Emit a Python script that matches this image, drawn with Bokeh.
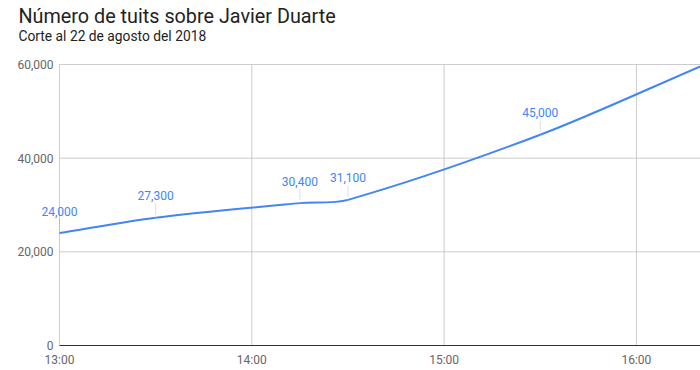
import numpy as np
import pandas as pd
from bokeh.plotting import figure
from bokeh.models import (FixedTicker, NumeralTickFormatter, DatetimeTickFormatter, Range1d,
                          Label, LabelSet, ColumnDataSource)
from bokeh.core.properties import value
from bokeh.embed import file_html
from bokeh.resources import INLINE

# ---- data ----
day = "2018-08-22 "
times = ["13:00", "13:30", "14:15", "14:30", "15:30", "16:20"]
tweets = [24000, 27300, 30400, 31100, 45000, 59600]
label_times = ["13:00", "13:30", "14:15", "14:30", "15:30"]
label_values = [24000, 27300, 30400, 31100, 45000]
label_texts = ["24,000", "27,300", "30,400", "31,100", "45,000"]
x_ticks = ["13:00", "14:00", "15:00", "16:00"]
y_ticks = [0, 20000, 40000, 60000]
x_start, x_end = "13:00", "16:20"
y_start, y_end = 0, 60000

title_text = "Número de tuits sobre Javier Duarte"
subtitle_text = "Corte al 22 de agosto del 2018"

FONT = "Roboto"
BLUE = "#4285f4"

def to_ms(t):
    return pd.Timestamp(day + t).value / 1e6

xs = np.array([to_ms(t) for t in times])
ys = np.array(tweets, dtype=float)
lx = np.array([to_ms(t) for t in label_times])
ly = np.array(label_values, dtype=float)
xt = np.array([to_ms(t) for t in x_ticks])
yt = np.array(y_ticks, dtype=float)
x0, x1 = to_ms(x_start), to_ms(x_end)

# layout (pixels)
W, H = 700, 370
PL, PT, PB = 59, 64, 25          # plot-area offsets inside the canvas
PW, PH = W - PL, H - PT - PB     # plot-area size
mpp = (x1 - x0) / PW             # ms per pixel
vpp = (y_end - y_start) / PH     # value per pixel
fx0 = x0 - PL * mpp              # frame covers the whole canvas
fy0 = y_start - PB * vpp
fy1 = y_end + PT * vpp

p = figure(width=W, height=H, x_axis_type="datetime", output_backend="svg",
           toolbar_location=None, min_border_left=0, min_border_right=0,
           min_border_top=0, min_border_bottom=0,
           x_range=Range1d(fx0, x1), y_range=Range1d(fy0, fy1))
p.outline_line_color = None
p.background_fill_color = "white"
p.border_fill_color = "white"
p.xgrid.visible = False
p.ygrid.visible = False

# gridlines over the plot area only
GRID = "#cccccc"
p.segment(x0=np.full(len(yt), x0), y0=yt, x1=np.full(len(yt), x1), y1=yt,
          line_color=GRID, line_width=1, level="underlay")
p.segment(x0=xt, y0=np.full(len(xt), y_start), x1=xt, y1=np.full(len(xt), y_end),
          line_color=GRID, line_width=1, level="underlay")

# titles
p.add_layout(Label(x=fx0 + 18 * mpp, y=fy1 - 16 * vpp, text=title_text,
                   text_font=FONT, text_font_size="19.8px", text_color="#222222",
                   text_baseline="alphabetic", text_align="left"))
p.add_layout(Label(x=fx0 + 18 * mpp, y=fy1 - 35 * vpp, text=subtitle_text,
                   text_font=FONT, text_font_size="13.8px", text_color="#222222",
                   text_baseline="alphabetic", text_align="left"))

# axes
p.xaxis.ticker = FixedTicker(ticks=list(xt))
p.xaxis.formatter = DatetimeTickFormatter(hours="%H:%M", minutes="%H:%M", hourmin="%H:%M", days="%H:%M")
p.xaxis.bounds = (x0, x1)
p.xaxis.fixed_location = y_start
p.yaxis.ticker = FixedTicker(ticks=y_ticks)
p.yaxis.formatter = NumeralTickFormatter(format="0,0")
p.yaxis.fixed_location = x0
for ax in (p.xaxis, p.yaxis):
    ax.major_tick_line_color = None
    ax.minor_tick_line_color = None
    ax.major_tick_out = 0
    ax.major_tick_in = 0
    ax.minor_tick_out = 0
    ax.major_label_text_font = FONT
    ax.major_label_text_font_size = "12px"
    ax.major_label_text_color = "#666666"
p.xaxis.axis_line_color = "#333333"
p.xaxis.major_label_standoff = 7
p.yaxis.axis_line_color = None
p.yaxis.major_label_standoff = 6

# smooth curve through the data points (cubic bezier segments)
px = (xs - x0) / mpp
py = (ys - y_start) / vpp
n = len(px)
tx = np.zeros(n); ty = np.zeros(n)
for i in range(n):
    a = max(i - 1, 0); b = min(i + 1, n - 1)
    dx, dy = px[b] - px[a], py[b] - py[a]
    L = np.hypot(dx, dy)
    tx[i], ty[i] = dx / L, dy / L
s = 0.3
c0x, c0y, c1x, c1y = [], [], [], []
for i in range(n - 1):
    seg = np.hypot(px[i + 1] - px[i], py[i + 1] - py[i])
    c0x.append(px[i] + tx[i] * s * seg); c0y.append(py[i] + ty[i] * s * seg)
    c1x.append(px[i + 1] - tx[i + 1] * s * seg); c1y.append(py[i + 1] - ty[i + 1] * s * seg)
c0x = np.array(c0x) * mpp + x0; c1x = np.array(c1x) * mpp + x0
c0y = np.array(c0y) * vpp + y_start; c1y = np.array(c1y) * vpp + y_start
p.bezier(x0=xs[:-1], y0=ys[:-1], x1=xs[1:], y1=ys[1:], cx0=c0x, cy0=c0y,
         cx1=c1x, cy1=c1y, line_color=BLUE, line_width=2)

# annotation stems and labels
p.segment(x0=lx, y0=ly + 3 * vpp, x1=lx, y1=ly + 14 * vpp,
          line_color="#999999", line_alpha=0.3, line_width=1)
src = ColumnDataSource(dict(x=lx, y=ly, t=label_texts))
p.add_layout(LabelSet(x="x", y="y", text="t", source=src, y_offset=22,
                      text_font=value(FONT), text_font_size=value("12px"), text_color=BLUE,
                      text_align="center", text_baseline="middle"))

open("out.html", "w").write(file_html(p, INLINE))
